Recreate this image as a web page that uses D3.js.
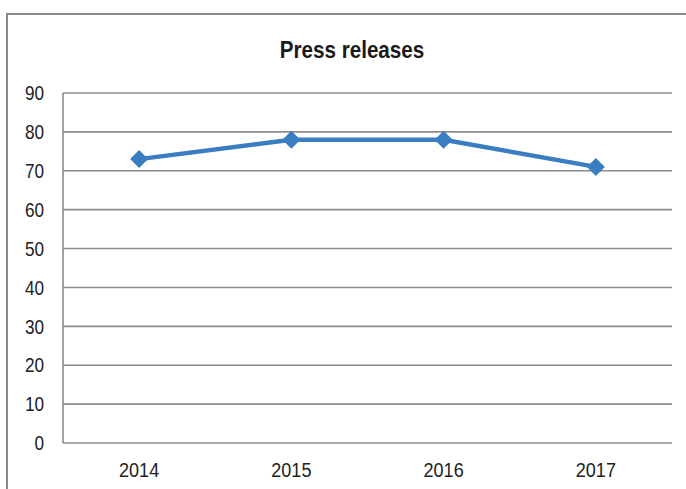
<!DOCTYPE html>
<html>
<head>
<meta charset="utf-8">
<script src="https://cdn.jsdelivr.net/npm/d3@7"></script>
<style>
  html, body { margin: 0; padding: 0; background: #fff; }
  svg { display: block; }
  .tick-label { font-family: "Liberation Sans", Arial, sans-serif; fill: #222; }
</style>
</head>
<body>
<svg id="chart" width="686" height="489"></svg>
<script>
// Press releases per year
const years = ["2014", "2015", "2016", "2017"];
const releases = [73, 78, 78, 71];
const yTicks = [0, 10, 20, 30, 40, 50, 60, 70, 80, 90];

const svg = d3.select("#chart");
const plot = { left: 63, right: 672, top: 93, bottom: 443 };
const narrow = 0.86; // horizontal squeeze for the condensed label face

// outer chart frame (runs off the right and bottom edges)
svg.append("rect")
  .attr("x", 7).attr("y", 14)
  .attr("width", 720).attr("height", 520)
  .attr("fill", "#fff")
  .attr("stroke", "#8a8a8a")
  .attr("stroke-width", 2);

const x = d3.scaleBand().domain(years).range([plot.left, plot.right]);
const y = d3.scaleLinear().domain([0, 90]).range([plot.bottom, plot.top]);

// horizontal gridlines
svg.append("g")
  .selectAll("line")
  .data(yTicks)
  .join("line")
  .attr("x1", plot.left).attr("x2", plot.right)
  .attr("y1", d => y(d)).attr("y2", d => y(d))
  .attr("stroke", "#8c8c8c")
  .attr("stroke-width", 1.6);

// vertical axis line
svg.append("line")
  .attr("x1", plot.left).attr("x2", plot.left)
  .attr("y1", plot.top).attr("y2", plot.bottom)
  .attr("stroke", "#8c8c8c")
  .attr("stroke-width", 1.6);

// y tick labels
svg.append("g")
  .selectAll("text")
  .data(yTicks)
  .join("text")
  .attr("class", "tick-label")
  .attr("transform", d => `translate(44,${y(d)}) scale(${narrow},1)`)
  .attr("dy", "0.36em")
  .attr("text-anchor", "end")
  .style("font-size", "20px")
  .text(d => d);

// x tick labels
svg.append("g")
  .selectAll("text")
  .data(years)
  .join("text")
  .attr("class", "tick-label")
  .attr("transform", d => `translate(${x(d) + x.bandwidth() / 2},477) scale(${narrow},1)`)
  .attr("text-anchor", "middle")
  .style("font-size", "21px")
  .text(d => d);

// title
svg.append("text")
  .attr("transform", `translate(352,58) scale(${narrow},1)`)
  .attr("text-anchor", "middle")
  .style("font-family", "'Liberation Sans', Arial, sans-serif")
  .style("font-weight", "bold")
  .style("font-size", "24px")
  .style("fill", "#1a1a1a")
  .text("Press releases");

// series line
const pts = years.map((yr, i) => ({ yr, v: releases[i] }));
const line = d3.line()
  .x(d => x(d.yr) + x.bandwidth() / 2)
  .y(d => y(d.v));

svg.append("path")
  .datum(pts)
  .attr("d", line)
  .attr("fill", "none")
  .attr("stroke", "#3a7dc2")
  .attr("stroke-width", 4.5)
  .attr("stroke-linejoin", "round");

// diamond markers
svg.append("g")
  .selectAll("path")
  .data(pts)
  .join("path")
  .attr("transform", d => `translate(${x(d.yr) + x.bandwidth() / 2},${y(d.v)})`)
  .attr("d", "M0,-9L9,0L0,9L-9,0Z")
  .attr("fill", "#3a7dc2");
</script>
</body>
</html>
